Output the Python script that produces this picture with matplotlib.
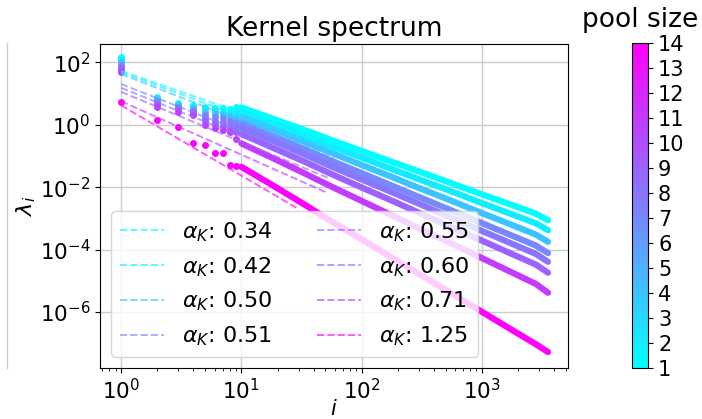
import numpy as np
import matplotlib
matplotlib.use("Agg")
import matplotlib.pyplot as plt
from matplotlib.lines import Line2D
from matplotlib.colors import Normalize
from matplotlib.cm import ScalarMappable

# -----------------------------
# DATA (log10 of eigenvalues)
# -----------------------------
POOL_SIZES = [1, 2, 4, 7, 8, 9, 11, 14]
ALPHA_K = [0.34, 0.42, 0.50, 0.51, 0.55, 0.60, 0.71, 1.25]
FIT_LOG_C = [1.72, 1.68, 1.62, 1.30, 1.18, 1.05, 0.75, 0.62]
FIT_END = [60, 60, 60, 60, 60, 55, 50, 30]

IDX_LOW = [1, 2, 3, 4, 5, 6, 7, 8, 9]
IDX_HIGH = [10, 18, 32, 56, 100, 178, 316, 562, 1000, 1778, 2818, 3550]

LOG_LAM_LOW = [
    [2.17, 0.90, 0.70, 0.62, 0.58, 0.52, 0.52, 0.50, 0.55],
    [2.08, 0.85, 0.66, 0.58, 0.50, 0.44, 0.42, 0.38, 0.40],
    [2.00, 0.80, 0.62, 0.53, 0.42, 0.34, 0.32, 0.27, 0.26],
    [1.92, 0.75, 0.57, 0.47, 0.32, 0.24, 0.20, 0.14, 0.08],
    [1.85, 0.68, 0.52, 0.42, 0.22, 0.12, 0.08, 0.02, -0.06],
    [1.78, 0.62, 0.47, 0.36, 0.12, 0.02, -0.04, -0.10, -0.24],
    [1.70, 0.55, 0.40, 0.30, 0.00, -0.11, -0.16, -0.23, -0.45],
    [0.72, 0.14, -0.08, -0.58, -0.66, -0.90, -0.92, -1.30, -1.33],
]

LOG_LAM_HIGH = [
    [0.55, 0.20, -0.14, -0.49, -0.84, -1.19, -1.53, -1.88, -2.23, -2.57, -2.85, -3.06],
    [0.40, 0.04, -0.33, -0.69, -1.05, -1.42, -1.78, -2.14, -2.51, -2.87, -3.16, -3.38],
    [0.25, -0.13, -0.52, -0.90, -1.29, -1.67, -2.06, -2.44, -2.83, -3.21, -3.52, -3.75],
    [0.05, -0.35, -0.75, -1.15, -1.55, -1.95, -2.35, -2.75, -3.15, -3.55, -3.87, -4.11],
    [-0.10, -0.51, -0.92, -1.34, -1.75, -2.16, -2.57, -2.99, -3.40, -3.81, -4.14, -4.39],
    [-0.30, -0.73, -1.15, -1.58, -2.01, -2.43, -2.86, -3.29, -3.71, -4.14, -4.48, -4.74],
    [-0.60, -1.06, -1.52, -1.98, -2.44, -2.90, -3.36, -3.81, -4.27, -4.73, -5.10, -5.38],
    [-1.35, -1.93, -2.51, -3.09, -3.67, -4.25, -4.83, -5.41, -5.99, -6.57, -7.03, -7.28],
]

# -----------------------------
# PLOT
# -----------------------------
fig = plt.figure(figsize=(7.02, 4.19), dpi=100)
ax = fig.add_axes([0.1425, 0.1217, 0.6665, 0.7721])
cax = fig.add_axes([0.900, 0.1224, 0.0236, 0.7742])

cmap = plt.get_cmap("cool")
norm = Normalize(vmin=1, vmax=14)

for k, p in enumerate(POOL_SIZES):
    col = cmap(norm(p))
    ax.plot(IDX_LOW, 10.0 ** np.array(LOG_LAM_LOW[k]), "o", ms=5,
            color=col, mew=0)
    ax.plot(IDX_HIGH, 10.0 ** np.array(LOG_LAM_HIGH[k]), "-", lw=4.5,
            color=col, solid_capstyle="round")

for k, p in enumerate(POOL_SIZES):
    col = cmap(norm(p))
    xs = np.array([1.0, FIT_END[k]])
    ys = 10.0 ** FIT_LOG_C[k] * xs ** (-(1 + ALPHA_K[k]))
    ax.plot(xs, ys, "--", lw=1.4, color=col, alpha=0.65,
            label=r"$\alpha_K$: %.2f" % ALPHA_K[k])

ax.set_xscale("log")
ax.set_yscale("log")
ax.set_xlim(10 ** -0.175, 10 ** 3.716)
ax.set_ylim(10 ** -7.79, 10 ** 2.566)
ax.set_yticks([1e2, 1e0, 1e-2, 1e-4, 1e-6])
ax.yaxis.set_minor_locator(matplotlib.ticker.NullLocator())
ax.grid(True, which="major", color="#cccccc", lw=1.0)
ax.tick_params(labelsize=15.5)

ax.set_title("Kernel spectrum", fontsize=19)
ax.set_xlabel(r"$i$", fontsize=15, labelpad=-3)
ax.set_ylabel(r"$\lambda_i$", fontsize=16, labelpad=1)

ax.legend(ncol=2, loc="lower left", fontsize=16)

sm = ScalarMappable(norm=norm, cmap=cmap)
cb = fig.colorbar(sm, cax=cax, ticks=list(range(1, 15)))
cb.ax.tick_params(labelsize=15)
cb.ax.set_title("pool size", fontsize=19, pad=12)

fig.add_artist(Line2D([6.7 / 702, 6.7 / 702], [1 - 43 / 419, 1 - 368 / 419],
                      color="#cccccc", lw=1.0, transform=fig.transFigure))

fig.savefig("out.png", dpi=100)
